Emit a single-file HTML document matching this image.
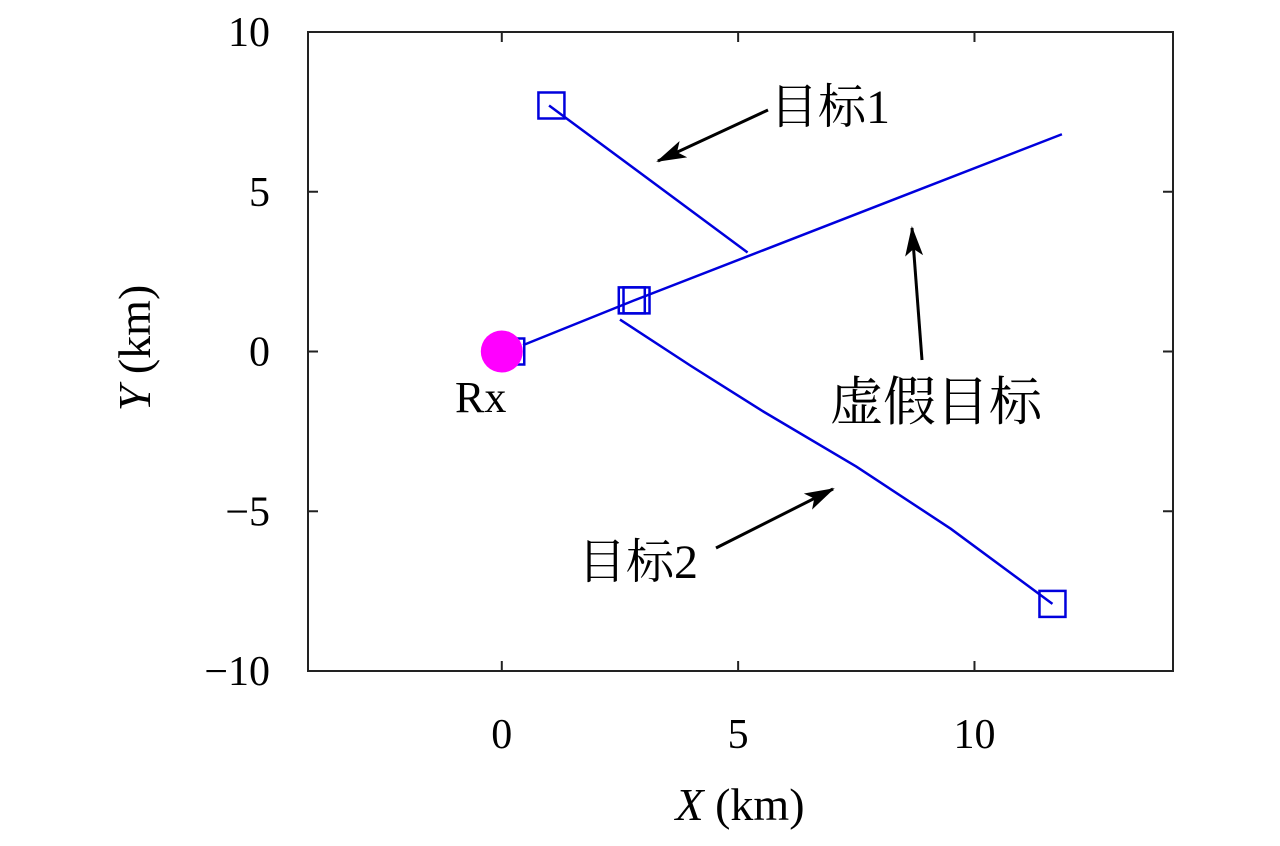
<!DOCTYPE html>
<html><head><meta charset="utf-8"><style>
body{margin:0;background:#fff}
svg text{font-family:"Liberation Serif","Noto Serif CJK SC",serif;fill:#000}
</style></head><body>
<svg id="chart" width="1280" height="841" xmlns="http://www.w3.org/2000/svg">
<defs><marker id="ah" markerWidth="30" markerHeight="18" refX="28" refY="9" orient="auto" markerUnits="userSpaceOnUse" viewBox="0 0 30 18"><path d="M0,0 L30,9 L0,18 L7,9 Z" fill="#000"/></marker></defs>
</svg>
<script>
const xTicks=[0,5,10];
const yTicks=[-10,-5,0,5,10];
const xTickLabels=["0","5","10"];
const yTickLabels=["\u221210","\u22125","0","5","10"];
const target1X=[1.0,5.2];
const target1Y=[7.7,3.1];
const fakeX=[0.45,2.8,11.85];
const fakeY=[0.2,1.6,6.8];
const target2X=[2.5,4,5.5,7.5,9.5,11.65];
const target2Y=[1.0,-0.45,-1.85,-3.6,-5.55,-7.9];
const squaresX=[0.2,1.05,2.75,2.85,11.65];
const squaresY=[0.0,7.7,1.6,1.6,-7.9];
const rxX=[0], rxY=[0];
const L=308,R=1173,T=32,B=671,xmin=-4.1,xmax=14.2,ymin=-10,ymax=10;
const sx=v=>L+(v-xmin)/(xmax-xmin)*(R-L);
const sy=v=>B-(v-ymin)/(ymax-ymin)*(B-T);
const svg=document.getElementById('chart');
const NS='http://www.w3.org/2000/svg';
function mk(t,a){const e=document.createElementNS(NS,t);for(const k in a)e.setAttribute(k,a[k]);svg.appendChild(e);return e;}
let e=mk('rect',{x:L,y:T,width:R-L,height:B-T,fill:'none',stroke:'#222','stroke-width':2});


xTicks.forEach((v,i)=>{const x=sx(v);
 mk('line',{x1:x,y1:B,x2:x,y2:B-10,stroke:'#222','stroke-width':2});
 mk('line',{x1:x,y1:T,x2:x,y2:T+10,stroke:'#222','stroke-width':2});
 const t=mk('text',{x:x,y:748,'font-size':42,'text-anchor':'middle'});t.textContent=xTickLabels[i];
 
 });
yTicks.forEach((v,i)=>{const y=sy(v);
 mk('line',{x1:L,y1:y,x2:L+10,y2:y,stroke:'#222','stroke-width':2});
 mk('line',{x1:R,y1:y,x2:R-10,y2:y,stroke:'#222','stroke-width':2});
 const t=mk('text',{x:270,y:y+14,'font-size':42,'text-anchor':'end'});t.textContent=yTickLabels[i];
 
 });
function line(xs,ys,name){const p=mk('polyline',{points:xs.map((x,i)=>sx(x)+','+sy(ys[i])).join(' '),fill:'none',stroke:'#0000dd','stroke-width':2.5});
 
 }
line(target1X,target1Y,'target1-line');
line(fakeX,fakeY,'fake-target-line');
line(target2X,target2Y,'target2-line');
squaresX.forEach((x,i)=>{const s=mk('rect',{x:sx(x)-13,y:sy(squaresY[i])-13,width:26,height:26,fill:'none',stroke:'#0000dd','stroke-width':2.5});
 
 });
const c=mk('circle',{cx:sx(rxX[0]),cy:sy(rxY[0]),r:21,fill:'#ff00ff'});


function arrow(x1,y1,x2,y2,name){const a=mk('line',{x1,y1,x2,y2,stroke:'#000','stroke-width':3,'marker-end':'url(#ah)'});
 
 }
arrow(768,110,658,161,'arrow-target1');
arrow(922,360,912,228,'arrow-fake-target');
arrow(716,548,833,489,'arrow-target2');
function txt(s,x,y,name,sz,anchor,extra){const t=mk('text',{x,y,'font-size':sz||48,'text-anchor':anchor||'start'});t.innerHTML=s;
 if(extra)for(const k in extra)t.setAttribute(k,extra[k]);
 
 return t;}
txt('目标1',770,123,'label-target1');
txt('虚假目标',830,420,'label-fake-target',53);
txt('目标2',578,578,'label-target2');
txt('Rx',455,412,'label-rx',44);
txt('<tspan font-style="italic">X</tspan> (km)',740,820,'x-axis-title',46,'middle');
txt('<tspan font-style="italic">Y</tspan> (km)',0,0,'y-axis-title',46,'middle',{transform:'translate(150,348) rotate(-90)'});
</script>
</body></html>
